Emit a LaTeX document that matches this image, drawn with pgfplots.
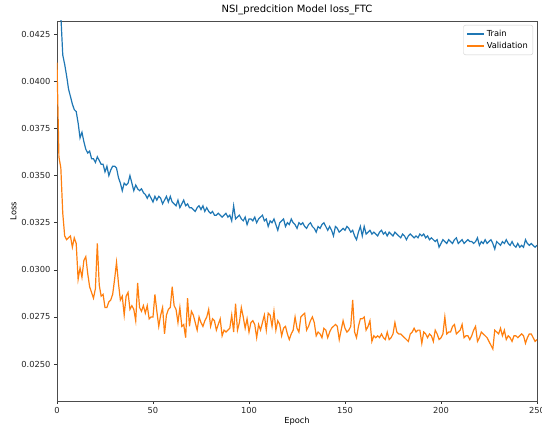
\documentclass[border=0pt]{standalone}
\usepackage{fontspec}
\setmainfont{DejaVu Sans}
\usepackage{pgfplots}
\usepackage{pgfplotstable}
\pgfplotsset{compat=1.18}
\definecolor{mplblue}{HTML}{1F77B4}
\definecolor{mplorange}{HTML}{FF7F0E}
\pgfplotstableread{
ep tr va
0 0.0520 0.0410
1 0.0465 0.0360
2 0.0435 0.0354
3 0.0414 0.0330
4 0.0409 0.0318
5 0.0403 0.0316
6 0.0396 0.0317
7 0.0392 0.0318
8 0.0388 0.0312
9 0.0385 0.0317
10 0.0384 0.0314
11 0.0378 0.0295
12 0.0370 0.0301
13 0.0373 0.0296
14 0.0368 0.0305
15 0.0364 0.0307
16 0.0362 0.0298
17 0.0363 0.0291
18 0.0359 0.0288
19 0.0359 0.0285
20 0.0357 0.0290
21 0.0360 0.0314
22 0.0358 0.0292
23 0.0356 0.0286
24 0.0356 0.0287
25 0.0352 0.0280
26 0.0355 0.0280
27 0.0350 0.0283
28 0.0353 0.0284
29 0.0355 0.0287
30 0.0355 0.0295
31 0.0354 0.0304
32 0.0349 0.0293
33 0.0346 0.0284
34 0.0342 0.0286
35 0.0346 0.0276
36 0.0345 0.0286
37 0.0346 0.0288
38 0.0350 0.0279
39 0.0346 0.0281
40 0.0342 0.0279
41 0.0345 0.0273
42 0.0343 0.0293
43 0.0342 0.0280
44 0.0343 0.0278
45 0.0341 0.0281
46 0.0340 0.0277
47 0.0338 0.0281
48 0.0340 0.0274
49 0.0338 0.0275
50 0.0336 0.0275
51 0.0339 0.0287
52 0.0337 0.0278
53 0.0339 0.0270
54 0.0338 0.0276
55 0.0335 0.0280
56 0.0337 0.0266
57 0.0339 0.0276
58 0.0336 0.0279
59 0.0339 0.0280
60 0.0336 0.0291
61 0.0335 0.0281
62 0.0334 0.0279
63 0.0337 0.0272
64 0.0333 0.0280
65 0.0335 0.0270
66 0.0337 0.0271
67 0.0334 0.0264
68 0.0335 0.0285
69 0.0333 0.0270
70 0.0333 0.0278
71 0.0332 0.0276
72 0.0331 0.0272
73 0.0333 0.0268
74 0.0334 0.0275
75 0.0332 0.0272
76 0.0334 0.0270
77 0.0331 0.0273
78 0.0333 0.0275
79 0.0331 0.0279
80 0.0330 0.0270
81 0.0331 0.0274
82 0.0329 0.0273
83 0.0329 0.0268
84 0.0330 0.0271
85 0.0329 0.0274
86 0.0328 0.0265
87 0.0329 0.0268
88 0.0330 0.0267
89 0.0328 0.0268
90 0.0329 0.0269
91 0.0326 0.0276
92 0.0334 0.0267
93 0.0327 0.0282
94 0.0328 0.0268
95 0.0329 0.0272
96 0.0327 0.0280
97 0.0326 0.0275
98 0.0328 0.0269
99 0.0324 0.0274
100 0.0327 0.0267
101 0.0327 0.0272
102 0.0326 0.0273
103 0.0328 0.0271
104 0.0325 0.0264
105 0.0327 0.0271
106 0.0328 0.0268
107 0.0329 0.0272
108 0.0326 0.0276
109 0.0327 0.0268
110 0.0323 0.0277
111 0.0326 0.0276
112 0.0325 0.0270
113 0.0327 0.0278
114 0.0324 0.0268
115 0.0321 0.0273
116 0.0325 0.0271
117 0.0326 0.0265
118 0.0327 0.0269
119 0.0323 0.0270
120 0.0325 0.0266
121 0.0324 0.0263
122 0.0327 0.0266
123 0.0325 0.0268
124 0.0324 0.0275
125 0.0322 0.0269
126 0.0325 0.0267
127 0.0324 0.0275
128 0.0325 0.0276
129 0.0323 0.0277
130 0.0322 0.0268
131 0.0324 0.0270
132 0.0325 0.0273
133 0.0323 0.0275
134 0.0322 0.0272
135 0.0320 0.0265
136 0.0323 0.0267
137 0.0322 0.0266
138 0.0324 0.0264
139 0.0325 0.0269
140 0.0323 0.0268
141 0.0321 0.0264
142 0.0323 0.0267
143 0.0321 0.0269
144 0.0318 0.0270
145 0.0323 0.0271
146 0.0322 0.0270
147 0.0320 0.0263
148 0.0321 0.0268
149 0.0322 0.0273
150 0.0321 0.0269
151 0.0323 0.0267
152 0.0322 0.0268
153 0.0320 0.0270
154 0.0321 0.0284
155 0.0318 0.0267
156 0.0316 0.0264
157 0.0320 0.0270
158 0.0323 0.0274
159 0.0318 0.0274
160 0.0323 0.0275
161 0.0319 0.0268
162 0.0320 0.0270
163 0.0321 0.0273
164 0.0319 0.0262
165 0.0320 0.0265
166 0.0319 0.0264
167 0.0318 0.0265
168 0.0320 0.0264
169 0.0321 0.0266
170 0.0319 0.0264
171 0.0320 0.0263
172 0.0318 0.0267
173 0.0320 0.0263
174 0.0319 0.0264
175 0.0318 0.0266
176 0.0320 0.0272
177 0.0319 0.0267
178 0.0318 0.0266
179 0.0317 0.0266
180 0.0319 0.0265
181 0.0318 0.0264
182 0.0316 0.0263
183 0.0318 0.0262
184 0.0319 0.0266
185 0.0318 0.0267
186 0.0317 0.0269
187 0.0318 0.0267
188 0.0317 0.0268
189 0.0319 0.0268
190 0.0318 0.0261
191 0.0319 0.0267
192 0.0317 0.0266
193 0.0318 0.0264
194 0.0316 0.0266
195 0.0317 0.0265
196 0.0316 0.0262
197 0.0315 0.0268
198 0.0316 0.0266
199 0.0312 0.0263
200 0.0314 0.0264
201 0.0316 0.0266
202 0.0315 0.0275
203 0.0314 0.0266
204 0.0316 0.0267
205 0.0315 0.0267
206 0.0314 0.0270
207 0.0316 0.0271
208 0.0317 0.0266
209 0.0314 0.0267
210 0.0315 0.0268
211 0.0316 0.0271
212 0.0314 0.0264
213 0.0315 0.0265
214 0.0316 0.0265
215 0.0315 0.0263
216 0.0315 0.0265
217 0.0314 0.0268
218 0.0315 0.0270
219 0.0317 0.0262
220 0.0313 0.0264
221 0.0315 0.0267
222 0.0314 0.0266
223 0.0316 0.0265
224 0.0314 0.0264
225 0.0315 0.0262
226 0.0316 0.0260
227 0.0314 0.0258
228 0.0311 0.0268
229 0.0315 0.0267
230 0.0314 0.0266
231 0.0313 0.0269
232 0.0315 0.0265
233 0.0314 0.0268
234 0.0316 0.0263
235 0.0314 0.0265
236 0.0313 0.0264
237 0.0315 0.0262
238 0.0313 0.0265
239 0.0312 0.0265
240 0.0314 0.0264
241 0.0312 0.0265
242 0.0313 0.0266
243 0.0312 0.0265
244 0.0316 0.0261
245 0.0314 0.0264
246 0.0313 0.0266
247 0.0314 0.0266
248 0.0313 0.0264
249 0.0312 0.0262
250 0.0313 0.0263
}\losstable
\begin{document}
\begin{tikzpicture}
\begin{axis}[
  at={(0,0)}, anchor=south west,
  scale only axis, width=480pt, height=380pt,
  xmin=0, xmax=250, ymin=0.02304, ymax=0.043205,
  xtick={0,50,100,150,200,250},
  ytick={0.025,0.0275,0.03,0.0325,0.035,0.0375,0.04,0.0425},
  scaled y ticks=false,
  yticklabel style={/pgf/number format/fixed,/pgf/number format/precision=4,/pgf/number format/fixed zerofill},
  /pgf/number format/assume math mode=true,
  tick label style={font=\fontsize{8.3}{10}\selectfont, text=black!85},
  tick align=outside, tick pos=left,
  major tick length=3pt,
  axis line style={line width=0.7pt, black!70},
  every tick/.style={black!80, line width=0.6pt},
  title={NSI\_predcition Model loss\_FTC},
  title style={font=\fontsize{10}{12}\selectfont, yshift=-3pt},
  xlabel={Epoch}, ylabel={Loss},
  label style={font=\fontsize{8.3}{10}\selectfont},
  xlabel style={yshift=3pt},
  ylabel style={yshift=-2pt},
  legend style={at={(1,1)}, anchor=north east, xshift=-4pt, yshift=-4pt,
    draw=black!20, rounded corners=2pt, fill=white, fill opacity=0.8, text opacity=1,
    font=\fontsize{8.3}{10}\selectfont, row sep=0pt, inner sep=3pt},
  legend cell align=left,
  clip=true,
]
\addplot[mplblue, line width=1.2pt] table[x=ep, y=tr] {\losstable};
\addlegendentry{Train}
\addplot[mplorange, line width=1.2pt] table[x=ep, y=va] {\losstable};
\addlegendentry{Validation}
\end{axis}
\pgfresetboundingbox
\path[use as bounding box] (-57pt,-30pt) rectangle (485pt,401pt);
\end{tikzpicture}
\end{document}
